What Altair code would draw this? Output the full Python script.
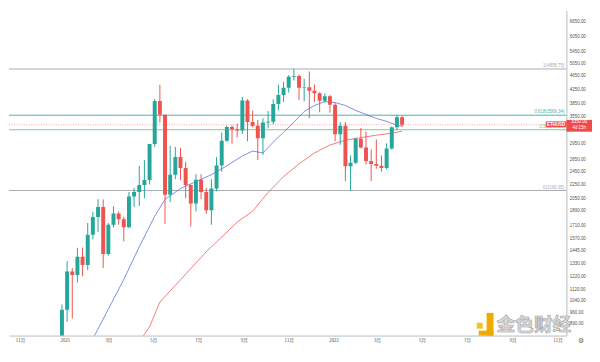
import altair as alt
import numpy as np
import pandas as pd

# ---------------- data ----------------
first_week = "2020-12-28"   # weekly candles, Monday starts
opens = [731, 975, 1260, 1230, 1390, 1314, 1610, 1810, 1935, 1416, 1720, 1855, 1785, 1690, 2075, 2140,
         2240, 2317, 2945, 3925, 3580, 2100, 2400, 2700, 2510, 2240, 1980, 2320, 2140, 1895, 2190, 2555,
         3010, 3300, 3250, 3225, 3940, 3410, 3330, 3060, 3400, 3415, 3845, 4085, 4290, 4610, 4640, 4290,
         4300, 4200, 4130, 3930, 4050, 3830, 3145, 3330, 2540, 2600, 3050, 2880, 2630, 2580, 2550, 2510,
         2860, 3295, 3520]
highs = [1011, 1350, 1290, 1475, 1476, 1740, 1875, 2040, 2036, 1740, 1945, 1880, 1815, 2140, 2200, 2545,
         2645, 2950, 3980, 4372, 3590, 2910, 2890, 2870, 2620, 2250, 2410, 2410, 2200, 2330, 2700, 3180,
         3330, 3340, 3375, 4030, 3970, 3680, 3460, 3500, 3670, 3970, 4375, 4460, 4665, 4868, 4680, 4550,
         4780, 4380, 4160, 4130, 4090, 3880, 3410, 3410, 2730, 3070, 3280, 3200, 2840, 3040, 2730, 2960,
         3310, 3580, 3560]
lows = [716, 900, 920, 1170, 1220, 1270, 1560, 1640, 1290, 1400, 1690, 1720, 1540, 1680, 1935, 1950,
        2050, 2250, 2890, 3400, 1730, 2000, 2330, 2320, 2050, 1700, 1880, 2040, 1850, 1720, 2150, 2450,
        2990, 2950, 3080, 3150, 3000, 3300, 2650, 2740, 3270, 3360, 3690, 3900, 4150, 4500, 3950, 3920,
        3500, 3900, 3640, 3880, 3630, 3000, 2930, 2300, 2160, 2580, 2860, 2570, 2300, 2500, 2450, 2490,
        2840, 3240, 3300]
closes = [975, 1260, 1230, 1390, 1314, 1610, 1810, 1935, 1416, 1720, 1855, 1785, 1690, 2075, 2140, 2240,
          2317, 2945, 3925, 3580, 2100, 2400, 2700, 2510, 2240, 1980, 2320, 2140, 1895, 2190, 2555, 3010,
          3300, 3250, 3225, 3940, 3410, 3330, 3060, 3400, 3415, 3845, 4085, 4290, 4610, 4640, 4290, 4300,
          4200, 4130, 3930, 4050, 3830, 3145, 3330, 2540, 2600, 3050, 2880, 2630, 2580, 2550, 2510, 2860,
          3295, 3520, 3350]

blue_dates = ["2021-01-25", "2021-02-08", "2021-03-01", "2021-03-22", "2021-04-12", "2021-05-03",
              "2021-05-17", "2021-06-07", "2021-06-28", "2021-07-19", "2021-08-09", "2021-08-30",
              "2021-09-13", "2021-09-27", "2021-10-11", "2021-10-25", "2021-11-08", "2021-11-22",
              "2021-12-06", "2021-12-20", "2022-01-03", "2022-01-17", "2022-01-31", "2022-02-14",
              "2022-02-28", "2022-03-14", "2022-03-28", "2022-04-04"]
blue_values = [669, 804, 980, 1194, 1485, 1821, 2037, 2190, 2293, 2401, 2548, 2721, 2812, 2775, 2984,
               3187, 3405, 3660, 3808, 3910, 3884, 3808, 3685, 3589, 3495, 3427, 3338, 3320]

red_dates = ["2021-03-22", "2021-03-29", "2021-04-12", "2021-04-26", "2021-05-10", "2021-05-31",
             "2021-06-21", "2021-07-12", "2021-08-02", "2021-08-23", "2021-09-13", "2021-10-04",
             "2021-10-25", "2021-11-15", "2021-12-06", "2021-12-27", "2022-01-17", "2022-02-07",
             "2022-02-28", "2022-03-21", "2022-04-04"]
red_values = [680, 705, 789, 871, 1027, 1148, 1284, 1437, 1585, 1750, 1882, 2133, 2370, 2582, 2775,
              2926, 3024, 3074, 3125, 3166, 3209]

fib_values = [4858.75, 3569.34, 3240.29, 2160.95]
fib_labels = ["1(4858.75)", "0.618(3569.34)", "0.5(3240.29)", "0(2160.95)"]

last_price = 3350
price_label = "3350.00"
countdown = "4d 15h"
symbol = "ETHUSD"

y_ticks = [6650, 6050, 5450, 5050, 4650, 4250, 3850, 3550, 2950, 2650, 2450, 2250, 2050,
           1890, 1710, 1570, 1445, 1330, 1220, 1120, 1040, 960, 890]
x_ticks = [(2020, 11), (2021, 1), (2021, 3), (2021, 5), (2021, 7), (2021, 9), (2021, 11),
           (2022, 1), (2022, 3), (2022, 5), (2022, 7), (2022, 9), (2022, 11)]

# ---------------- styling ----------------
W, H = 566, 330
UP, DOWN = "#26a69a", "#ef5350"
fib_colors = ["#a9acb3", "#4fb3a8", "#86c987", "#a9acb3"]
AX = "#b8bbc2"
LBL = "#505050"

candles = pd.DataFrame({
    "date": pd.date_range(first_week, periods=len(opens), freq="7D").strftime("%Y-%m-%d"),
    "open": opens, "high": highs, "low": lows, "close": closes,
})
candles["dir"] = np.where(candles["close"] >= candles["open"], "up", "down")
blue_df = pd.DataFrame({"d": blue_dates, "v": blue_values})
red_df = pd.DataFrame({"d": red_dates, "v": red_values})

xscale = alt.Scale(type="utc", domain=[
    alt.DateTime(year=2020, month=10, date=23, hours=17, minutes=30, utc=True),
    alt.DateTime(year=2022, month=11, date=6, hours=12, utc=True)])
xaxis = alt.Axis(
    values=[alt.DateTime(year=y, month=m, date=1, utc=True) for y, m in x_ticks],
    labelExpr="utcmonth(datum.value) == 0 ? '' + utcyear(datum.value) : (utcmonth(datum.value) + 1) + '月'",
    labelFont="Noto Sans CJK SC", labelFontSize=4.5, labelColor=LBL, ticks=False, labelPadding=2,
    domainColor=AX, grid=False, title=None, labelOverlap=False)
yscale = alt.Scale(type="log", domain=[821.5, 7172], nice=False)
yaxis = alt.Axis(orient="right", values=y_ticks, format=".2f", labelFont="Liberation Sans",
                 labelFontSize=4.5, labelColor=LBL, ticks=False, labelPadding=3, domainColor=AX,
                 grid=False, title=None, labelOverlap=False)


def X(f):
    return alt.X(f + ":T", scale=xscale, axis=xaxis)


def Y(f):
    return alt.Y(f + ":Q", scale=yscale, axis=yaxis)


dir_color = alt.Color("dir:N", scale=alt.Scale(domain=["up", "down"], range=[UP, DOWN]), legend=None)

layers = []
# fib lines
for val, lab, col in zip(fib_values, fib_labels, fib_colors):
    fdf = pd.DataFrame({"p": [val], "label": [lab]})
    layers.append(alt.Chart(fdf).mark_rule(color=col, strokeWidth=1).encode(y=Y("p")))
# current price dotted line
pdf = pd.DataFrame({"p": [last_price]})
layers.append(alt.Chart(pdf).mark_rule(color="#f5a5a5", strokeWidth=1, strokeDash=[1, 1.5]).encode(y=Y("p")))
# moving averages
layers.append(alt.Chart(blue_df).mark_line(color="#5b70e4", strokeWidth=0.8, clip=True)
              .encode(x=X("d"), y=Y("v")))
layers.append(alt.Chart(red_df).mark_line(color="#ef5b5b", strokeWidth=0.8, clip=True)
              .encode(x=X("d"), y=Y("v")))
# candles
layers.append(alt.Chart(candles).mark_rule(strokeWidth=1, clip=True)
              .encode(x=X("date"), y=Y("low"), y2="high:Q", color=dir_color))
layers.append(alt.Chart(candles).mark_bar(size=4, clip=True)
              .encode(x=X("date"), y=Y("open"), y2="close:Q", color=dir_color))
# fib labels
for val, lab, col in zip(fib_values, fib_labels, fib_colors):
    fdf = pd.DataFrame({"p": [val], "label": [lab]})
    layers.append(alt.Chart(fdf).mark_text(align="right", baseline="bottom", dy=-1, fontSize=4.5,
                                           font="Liberation Sans", color=col)
                  .encode(x=alt.value(W - 2), y=Y("p"), text="label:N"))
# symbol label on the price
layers.append(alt.Chart(pdf).mark_rect(color="#f04b4b")
              .encode(x=alt.value(545), x2=alt.value(W), y=alt.datum(3426), y2=alt.datum(3294)))
layers.append(alt.Chart(pdf).mark_text(color="white", fontSize=4.5, font="Liberation Sans",
                                       fontWeight="bold")
              .encode(x=alt.value(555.5), y=Y("p"), text=alt.value(symbol)))
# price label on axis
layers.append(alt.Chart(pdf).mark_rect(color="#f04b4b")
              .encode(x=alt.value(W), x2=alt.value(W + 26), y=alt.datum(3460), y2=alt.datum(3198)))
layers.append(alt.Chart(pdf).mark_text(color="white", fontSize=4.5, font="Liberation Sans", dy=-2.6)
              .encode(x=alt.value(W + 13), y=Y("p"), text=alt.value(price_label)))
layers.append(alt.Chart(pdf).mark_text(color="white", fontSize=4.5, font="Liberation Sans", dy=3.2)
              .encode(x=alt.value(W + 13), y=Y("p"), text=alt.value(countdown)))
# watermark (sits just above the time axis)
wm = pd.DataFrame({"a": [0]})
layers.append(alt.Chart(wm).mark_rect(color="#f7c21e")
              .encode(x=alt.value(475), x2=alt.value(481), y=alt.value(317), y2=alt.value(323)))
layers.append(alt.Chart(wm).mark_rect(color="#f2aa00")
              .encode(x=alt.value(485), x2=alt.value(492), y=alt.value(307), y2=alt.value(330)))
layers.append(alt.Chart(wm).mark_rect(color="#f2aa00")
              .encode(x=alt.value(477), x2=alt.value(492), y=alt.value(325), y2=alt.value(330)))
layers.append(alt.Chart(wm).mark_text(fontSize=19, font="Noto Sans CJK SC", fontWeight="bold",
                                      fill="#dcdcdc", stroke="#a0a0a0", strokeWidth=0.6)
              .encode(x=alt.value(533), y=alt.value(319), text=alt.value("金色财经")))
layers.append(alt.Chart(wm).mark_text(fontSize=7, font="DejaVu Sans", color="#666666")
              .encode(x=alt.value(W + 15), y=alt.value(H + 6), text=alt.value("⚙")))

chart = (alt.layer(*layers)
         .properties(width=W, height=H, padding=0, background="white")
         .configure_view(stroke=None))

chart.save("out.html", embed_options={"renderer": "svg", "actions": False})
